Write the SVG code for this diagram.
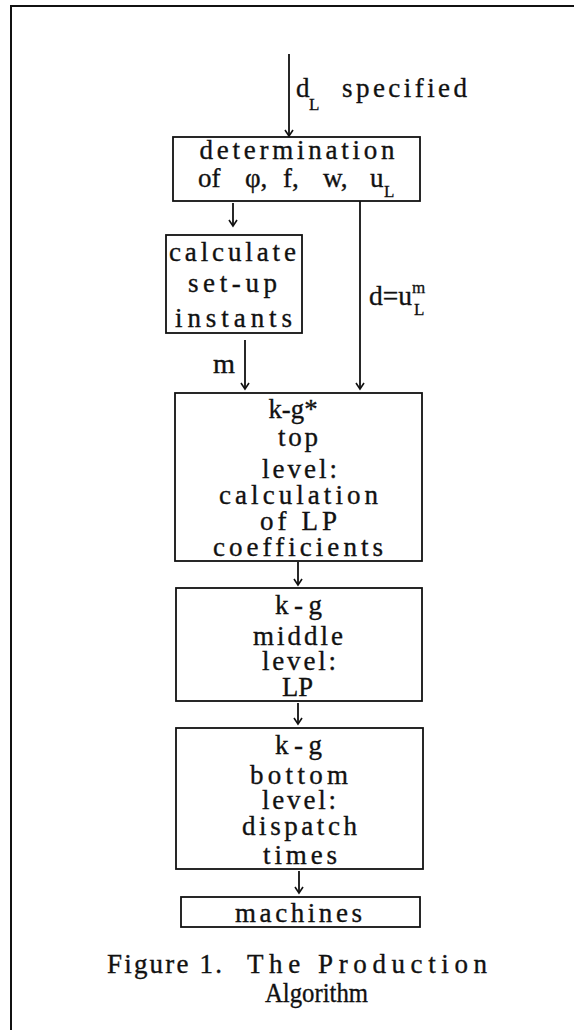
<svg xmlns="http://www.w3.org/2000/svg" width="574" height="1030" viewBox="0 0 574 1030">
<defs>
<style>
.t{font-family:"Liberation Serif","Times New Roman",serif;font-size:27px;fill:#111;stroke:#111;stroke-width:0.35;}
.s{font-family:"Liberation Serif","Times New Roman",serif;font-size:17px;fill:#111;stroke:#111;stroke-width:0.3;}
.c{text-anchor:middle;}
.box{fill:none;stroke:#111;stroke-width:1.8;}
.ln{fill:none;stroke:#111;stroke-width:1.8;}
</style>
<marker id="ah" markerUnits="userSpaceOnUse" markerWidth="12" markerHeight="12" refX="0" refY="0" viewBox="-8 -6 10 12" orient="auto">
<path d="M-6,-4 L0,0 L-6,4" fill="none" stroke="#111" stroke-width="1.6"/>
</marker>
</defs>
<rect x="0" y="0" width="574" height="1030" fill="#fff"/>
<path d="M11,1030 L11,6 L574,6" fill="none" stroke="#111" stroke-width="2"/>

<g id="connectors">
<line class="ln" x1="289" y1="54" x2="289" y2="136" marker-end="url(#ah)"/>
<text class="t" x="296" y="97">d</text>
<text class="s" x="309" y="110">L</text>
<text class="t" x="342" y="97" textLength="125" lengthAdjust="spacing">specified</text>
<line class="ln" x1="233" y1="203" x2="233" y2="226" marker-end="url(#ah)"/>
<line class="ln" x1="360" y1="201" x2="360" y2="389" marker-end="url(#ah)"/>
<text class="t" x="369" y="305" textLength="43" lengthAdjust="spacingAndGlyphs">d=u</text>
<text class="s" x="412" y="293">m</text>
<text class="s" x="414" y="315">L</text>
<line class="ln" x1="245" y1="340" x2="245" y2="389" marker-end="url(#ah)"/>
<text class="t" x="213" y="373" textLength="22" lengthAdjust="spacingAndGlyphs">m</text>
<line class="ln" x1="298" y1="562" x2="298" y2="585" marker-end="url(#ah)"/>
<line class="ln" x1="298" y1="703" x2="298" y2="724" marker-end="url(#ah)"/>
<line class="ln" x1="299" y1="871" x2="299" y2="893" marker-end="url(#ah)"/>
</g>

<g id="n-determination">
<rect class="box" x="173" y="137" width="247" height="64"/>
<text class="t c" x="297" y="159" textLength="195" lengthAdjust="spacing">determination</text>
<text class="t" x="198" y="187">of</text>
<text class="t" x="245" y="187">φ,</text>
<text class="t" x="283" y="187">f,</text>
<text class="t" x="323" y="187">w,</text>
<text class="t" x="370" y="187">u</text>
<text class="s" x="384" y="197">L</text>
</g>

<g id="n-setup">
<rect class="box" x="166" y="235" width="136" height="98"/>
<text class="t c" x="232.5" y="261" textLength="127" lengthAdjust="spacing">calculate</text>
<text class="t c" x="232.5" y="292" textLength="89" lengthAdjust="spacing">set-up</text>
<text class="t c" x="233.5" y="327" textLength="117" lengthAdjust="spacing">instants</text>
</g>

<g id="n-top">
<rect class="box" x="175" y="393" width="247" height="168"/>
<text class="t c" x="293" y="418" textLength="49" lengthAdjust="spacingAndGlyphs">k-g*</text>
<text class="t c" x="298" y="446" textLength="40" lengthAdjust="spacing">top</text>
<text class="t c" x="299.5" y="478" textLength="75" lengthAdjust="spacing">level:</text>
<text class="t c" x="298.5" y="504" textLength="159" lengthAdjust="spacing">calculation</text>
<text class="t c" x="298.5" y="530" textLength="77" lengthAdjust="spacing">of LP</text>
<text class="t c" x="298" y="556" textLength="170" lengthAdjust="spacing">coefficients</text>
</g>

<g id="n-middle">
<rect class="box" x="176" y="588" width="246" height="113"/>
<text class="t c" x="298.5" y="614" textLength="47" lengthAdjust="spacing">k-g</text>
<text class="t c" x="298" y="645" textLength="90" lengthAdjust="spacing">middle</text>
<text class="t c" x="299" y="670" textLength="74" lengthAdjust="spacing">level:</text>
<text class="t c" x="297.5" y="696" textLength="31" lengthAdjust="spacingAndGlyphs">LP</text>
</g>

<g id="n-bottom">
<rect class="box" x="176" y="728" width="247" height="141"/>
<text class="t c" x="298.5" y="754" textLength="47" lengthAdjust="spacing">k-g</text>
<text class="t c" x="299" y="784" textLength="98" lengthAdjust="spacing">bottom</text>
<text class="t c" x="299" y="809" textLength="74" lengthAdjust="spacing">level:</text>
<text class="t c" x="299.5" y="835" textLength="115" lengthAdjust="spacing">dispatch</text>
<text class="t c" x="300" y="864" textLength="74" lengthAdjust="spacing">times</text>
</g>

<g id="n-machines">
<rect class="box" x="181" y="897" width="239" height="30"/>
<text class="t c" x="298.5" y="922" textLength="127" lengthAdjust="spacing">machines</text>
</g>

<g id="caption">
<text class="t" x="107" y="973" textLength="115" lengthAdjust="spacing">Figure 1.</text>
<text class="t" x="247" y="973" textLength="240" lengthAdjust="spacing">The Production</text>
<text class="t c" x="316.5" y="1002" textLength="103" lengthAdjust="spacingAndGlyphs">Algorithm</text>
</g>
</svg>
